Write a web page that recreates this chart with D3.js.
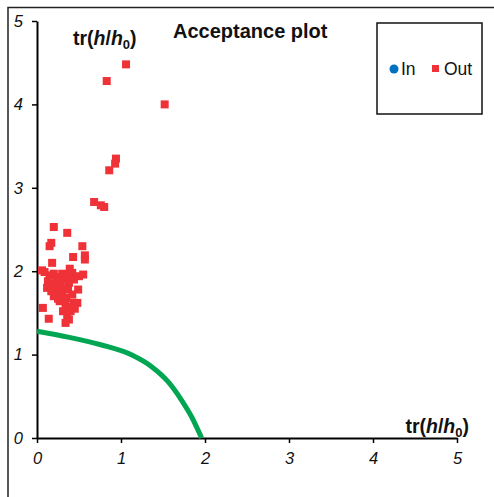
<!DOCTYPE html>
<html>
<head>
<meta charset="utf-8">
<script src="https://cdn.jsdelivr.net/npm/d3@7"></script>
<style>
  body { margin: 0; background: #fff; }
  svg { display: block; font-family: "Liberation Sans", Arial, sans-serif; }
</style>
</head>
<body>
<svg id="chart" width="494" height="497"></svg>
<script>
// data
const tickValues = [0, 1, 2, 3, 4, 5];

// "Out" points (x, y)
const outX = [1.06, 0.83, 1.52, 0.94, 0.93, 0.86, 0.68, 0.76, 0.80,
  0.20, 0.36, 0.17, 0.15, 0.54, 0.43, 0.57, 0.57, 0.18, 0.06, 0.39, 0.09,
  0.15, 0.20, 0.25, 0.30, 0.35, 0.42, 0.50, 0.55,
  0.13, 0.18, 0.23, 0.28, 0.33, 0.38, 0.44,
  0.12, 0.17, 0.22, 0.27, 0.32, 0.37, 0.49,
  0.20, 0.25, 0.30, 0.35, 0.42,
  0.27, 0.34, 0.44, 0.48, 0.40,
  0.07, 0.31, 0.40, 0.36, 0.14, 0.38, 0.34, 0.45];
const outY = [4.48, 4.28, 4.00, 3.35, 3.29, 3.21, 2.83, 2.79, 2.77,
  2.53, 2.46, 2.34, 2.30, 2.30, 2.17, 2.19, 2.14, 2.10, 2.01, 2.03, 1.99,
  1.95, 1.97, 1.93, 1.97, 1.95, 1.98, 1.94, 1.96,
  1.88, 1.85, 1.88, 1.84, 1.90, 1.86, 1.90,
  1.80, 1.76, 1.79, 1.75, 1.80, 1.78, 1.78,
  1.70, 1.67, 1.71, 1.68, 1.72,
  1.64, 1.60, 1.62, 1.62, 1.57,
  1.56, 1.52, 1.52, 1.47, 1.43, 1.42, 1.38, 1.55];

// acceptance boundary
const limitX = [0, 0.37, 0.77, 1.13, 1.365, 1.56, 1.72, 1.84, 1.96];
const limitY = [1.28, 1.21, 1.115, 0.995, 0.855, 0.675, 0.455, 0.255, 0];

const svg = d3.select("#chart");

const x = d3.scaleLinear().domain([0, 5]).range([37, 457]);
const y = d3.scaleLinear().domain([0, 5]).range([438, 21]);

// outer frame (cropped)
svg.append("path")
  .attr("d", "M8,497V7.5H494")
  .attr("fill", "none")
  .attr("stroke", "#222")
  .attr("stroke-width", 1.5);

// axes
const xAxis = svg.append("g")
  .attr("transform", `translate(0,${y(0)})`)
  .call(d3.axisBottom(x).tickValues(tickValues).tickSize(5).tickSizeOuter(0).tickFormat(d3.format("d")));
const yAxis = svg.append("g")
  .attr("transform", `translate(${x(0)},0)`)
  .call(d3.axisLeft(y).tickValues(tickValues).tickSize(5).tickSizeOuter(0).tickFormat(d3.format("d")));

[xAxis, yAxis].forEach(g => {
  g.select(".domain").attr("stroke", "#000").attr("stroke-width", 2);
  g.selectAll(".tick line").attr("stroke", "#000").attr("stroke-width", 1.5);
  g.selectAll(".tick text")
    .attr("fill", "#111")
    .style("font-family", "'Liberation Sans', Arial, sans-serif")
    .style("font-size", "16.5px")
    .style("font-style", "italic");
});
xAxis.selectAll(".tick text").attr("y", 14);
yAxis.selectAll(".tick text").attr("x", -14);

// boundary curve
const line = d3.line()
  .x(i => x(limitX[i]))
  .y(i => y(limitY[i]))
  .curve(d3.curveMonotoneX);
svg.append("path")
  .datum(d3.range(limitX.length))
  .attr("d", line)
  .attr("fill", "none")
  .attr("stroke", "#00a651")
  .attr("stroke-width", 5);

// out points
const sq = 8;
svg.append("g")
  .selectAll("rect")
  .data(d3.range(outX.length))
  .join("rect")
  .attr("x", i => x(outX[i]) - sq / 2)
  .attr("y", i => y(outY[i]) - sq / 2)
  .attr("width", sq)
  .attr("height", sq)
  .attr("fill", "#ee3238");

// axis titles
function trLabel(tx, ty, anchor) {
  const t = svg.append("text")
    .attr("x", tx).attr("y", ty)
    .attr("text-anchor", anchor)
    .style("font-size", "19.5px")
    .style("font-weight", "bold")
    .attr("fill", "#111");
  t.append("tspan").text("tr(");
  t.append("tspan").style("font-style", "italic").text("h");
  t.append("tspan").text("/");
  t.append("tspan").style("font-style", "italic").text("h");
  t.append("tspan").attr("dy", 4).style("font-size", "13px").text("0");
  t.append("tspan").attr("dy", -4).text(")");
}
trLabel(73, 45, "start");
trLabel(469, 433, "end");

// title
svg.append("text")
  .attr("x", 173).attr("y", 38)
  .style("font-size", "20px")
  .style("font-weight", "bold")
  .attr("fill", "#111")
  .text("Acceptance plot");

// legend
const legend = svg.append("g");
legend.append("rect")
  .attr("x", 377).attr("y", 23)
  .attr("width", 105).attr("height", 91)
  .attr("fill", "#fff")
  .attr("stroke", "#111")
  .attr("stroke-width", 1.5);
legend.append("circle").attr("cx", 394).attr("cy", 69).attr("r", 4.5).attr("fill", "#0070c0");
legend.append("text").attr("x", 401).attr("y", 75).style("font-size", "17.5px").attr("fill", "#111").text("In");
legend.append("rect").attr("x", 432).attr("y", 65).attr("width", 7).attr("height", 7).attr("fill", "#ee3238");
legend.append("text").attr("x", 444).attr("y", 75).style("font-size", "17.5px").attr("fill", "#111").text("Out");
</script>
</body>
</html>
